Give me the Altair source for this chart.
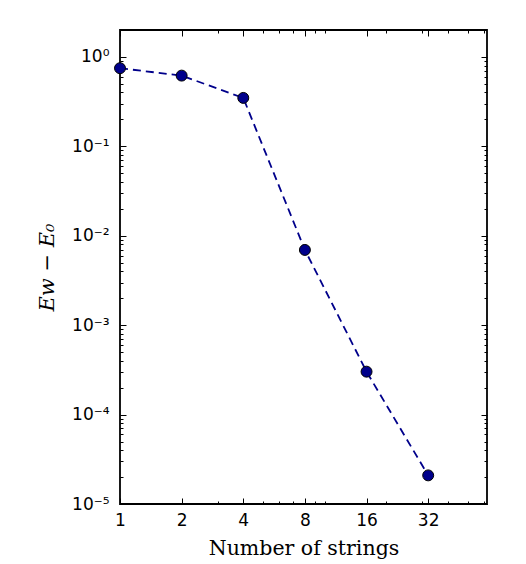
import altair as alt
import pandas as pd

# data
n_strings = [1, 2, 4, 8, 16, 32]
energy_gap = [0.748, 0.618, 0.348, 0.00694, 3.02e-4, 2.09e-5]

x_major = [1, 2, 4, 8, 16, 32]
x_minor = [3, 5, 6, 7, 9, 10, 20, 30, 40, 50, 60]
y_major = [1e-5, 1e-4, 1e-3, 1e-2, 1e-1, 1]
y_labels = ["10⁻⁵", "10⁻⁴", "10⁻³", "10⁻²", "10⁻¹", "10⁰"]
y_minor = [k * 10.0 ** e for e in range(-5, 1) for k in range(2, 10) if k * 10.0 ** e < 2]

df = pd.DataFrame({"n": n_strings, "e": energy_gap})

xs = alt.Scale(type="log", domain=[1, 62], nice=False, zero=False)
ys = alt.Scale(type="log", domain=[1e-5, 2], nice=False, zero=False)

y_label_expr = "[" + ",".join("'%s'" % s for s in y_labels) + "][round(log(datum.value)/LN10)+5]"

LBL = dict(labelFont="DejaVu Sans", labelFontSize=17, labelColor="black",
           tickColor="black", tickWidth=1, domain=False, grid=False)

base = alt.Chart(df)

# main layer: dashed line with labelled bottom / left axes
line = base.mark_line(color="#00008b", strokeWidth=1.8, strokeDash=[8, 5]).encode(
    x=alt.X("n:Q", scale=xs, axis=alt.Axis(
        orient="bottom", values=x_major, format="d", tickSize=6, offset=-6,
        labelPadding=8, title="Number of strings", titleFont="DejaVu Serif",
        titleFontSize=20.5, titleFontWeight="normal", titleColor="black",
        titlePadding=10, labelFlush=False, labelOverlap=False, **LBL)),
    y=alt.Y("e:Q", scale=ys, axis=alt.Axis(
        orient="left", values=y_major, labelExpr=y_label_expr, tickSize=6,
        offset=-6, labelPadding=11, title="Ew − E₀", titleFont="DejaVu Serif",
        titleFontStyle="italic", titleFontSize=21, titleFontWeight="normal",
        titleColor="black", titlePadding=14, labelFlush=False,
        labelOverlap=False, **LBL)),
)

points = base.mark_point(filled=True, fill="#00008b", stroke="black",
                         strokeWidth=1, size=120, opacity=1).encode(
    x=alt.X("n:Q", scale=xs, axis=None),
    y=alt.Y("e:Q", scale=ys, axis=None),
)

def ghost(xorient, yorient, xvals, yvals, tick):
    return base.mark_line(strokeOpacity=0).encode(
        x=alt.X("n:Q", scale=xs, axis=alt.Axis(
            orient=xorient, values=xvals, labels=False, title=None,
            tickSize=tick, offset=-tick, **LBL)),
        y=alt.Y("e:Q", scale=ys, axis=alt.Axis(
            orient=yorient, values=yvals, labels=False, title=None,
            tickSize=tick, offset=-tick, **LBL)),
    )

mirror_major = ghost("top", "right", x_major, y_major, 6)
minor_bl = ghost("bottom", "left", x_minor, y_minor, 3)
minor_tr = ghost("top", "right", x_minor, y_minor, 3)

chart = alt.layer(line, points, mirror_major, minor_bl, minor_tr).resolve_axis(
    x="independent", y="independent"
).properties(
    width=367, height=474,
    background="white",
    autosize=alt.AutoSizeParams(type="none"),
    padding={"left": 112, "top": 22, "right": 30, "bottom": 60},
).configure_view(stroke="black", strokeWidth=1.8)

chart.save("out.html", embed_options={"renderer": "svg", "actions": False})
